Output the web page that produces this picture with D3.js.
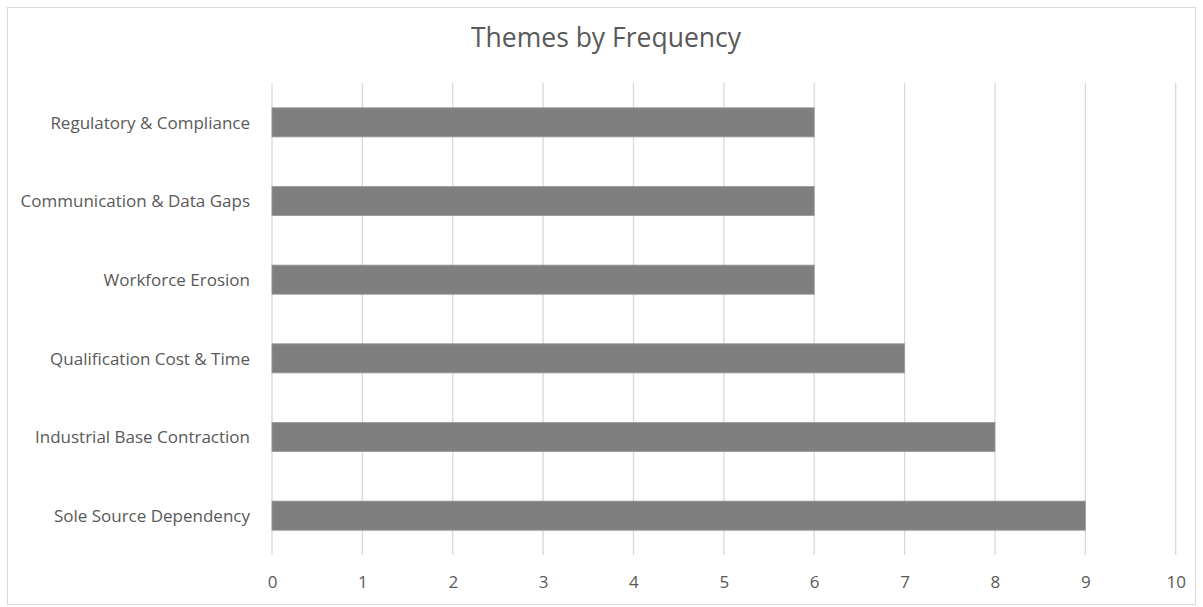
<!DOCTYPE html>
<html><head><meta charset="utf-8">
<script src="https://cdn.jsdelivr.net/npm/d3@7"></script>
<style>body{margin:0;background:#fff;} svg{display:block;}</style>
</head><body>
<script>
const categories = ["Regulatory & Compliance","Communication & Data Gaps","Workforce Erosion","Qualification Cost & Time","Industrial Base Contraction","Sole Source Dependency"];
const values = [6,6,6,7,8,9];
const xTicks = [0,1,2,3,4,5,6,7,8,9,10];
const title = "Themes by Frequency";

const W=1203,H=607;
const svg=d3.select("body").append("svg").attr("width",W).attr("height",H);
svg.append("rect").attr("x",7.5).attr("y",7.5).attr("width",1188).attr("height",597).attr("fill","#fff").attr("stroke","#d9d9d9");
const font="'Open Sans', sans-serif";
const x=d3.scaleLinear().domain([0,10]).range([272,1175.7]);
const y=d3.scaleBand().domain(categories).range([83,555]).paddingInner(0.63).paddingOuter(0.315);

const g=svg.append("g");
g.selectAll("line.grid").data(xTicks).join("line").attr("class","grid")
 .attr("x1",d=>x(d)).attr("x2",d=>x(d)).attr("y1",83).attr("y2",555)
 .attr("stroke","#d9d9d9").attr("stroke-width",1.3);
g.selectAll("rect.bar").data(categories).join("rect").attr("class","bar")
 .attr("x",x(0)).attr("y",d=>y(d)).attr("width",(d,i)=>x(values[i])-x(0)).attr("height",y.bandwidth())
 .attr("fill","#7f7f7f").attr("stroke","#9a9a9a").attr("stroke-width",0.8);

const xAxis=d3.axisBottom(x).tickValues(xTicks).tickSize(0).tickPadding(0).tickFormat(d3.format("d"));
const xa=svg.append("g").attr("transform","translate(0,588)").call(xAxis);
xa.select(".domain").remove();
xa.selectAll("text").attr("font-family",font).attr("font-size",17).attr("fill","#595959").attr("dy","0");

const yAxis=d3.axisLeft(y).tickSize(0).tickPadding(22);
const ya=svg.append("g").attr("transform",`translate(${x(0)},0)`).call(yAxis);
ya.select(".domain").remove();
ya.selectAll("text").attr("font-family",font).attr("font-size",17).attr("fill","#595959").attr("dy","0.38em");

svg.append("text").attr("x",606).attr("y",47).attr("text-anchor","middle")
 .attr("font-family",font).attr("font-size",26.5).attr("fill","#595959").text(title);
</script>
</body></html>
